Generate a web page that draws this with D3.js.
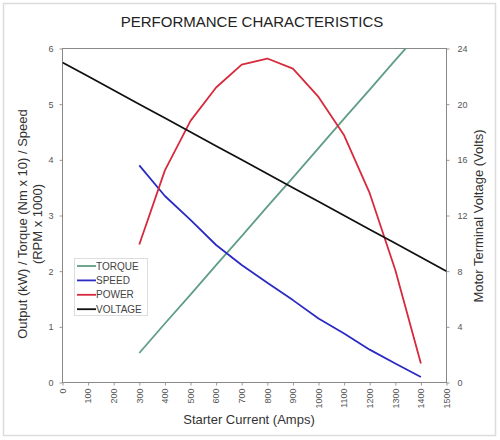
<!DOCTYPE html>
<html><head><meta charset="utf-8">
<script src="https://cdn.jsdelivr.net/npm/d3@7"></script>
<style>body{margin:0;background:#fff;font-family:"Liberation Sans",Arial,sans-serif}</style>
</head><body><div id="chart"></div>
<script>
const current = [300,400,500,600,700,800,900,1000,1100,1200,1300,1400];
const torque = [0.53,1.06,1.58,2.11,2.63,3.16,3.68,4.21,4.74,5.26,5.79,6.31];
const speed = [3.90,3.35,2.92,2.47,2.11,1.79,1.48,1.15,0.88,0.59,0.34,0.10];
const power = [2.48,3.81,4.70,5.30,5.71,5.82,5.64,5.13,4.44,3.40,2.02,0.34];
const voltCurrent = [0,100,200,300,400,500,600,700,800,900,1000,1100,1200,1300,1400,1500];
const voltage = [23,22,21,20,19,18,17,16,15,14,13,12,11,10,9,8];
const xTicks = [0,100,200,300,400,500,600,700,800,900,1000,1100,1200,1300,1400,1500];
const yLeftTicks = [0,1,2,3,4,5,6];
const yRightTicks = [0,4,8,12,16,20,24];
const legendNames = ["TORQUE","SPEED","POWER","VOLTAGE"];
const legendColors = ["#5f9e85","#2b2bc4","#d72a3c","#111111"];

const W=500,H=440;
const svg=d3.select("#chart").append("svg").attr("width",W).attr("height",H);
svg.append("rect").attr("x",3.5).attr("y",3.5).attr("width",492).attr("height",432)
  .attr("fill","#fff").attr("stroke","#dcdcdc").attr("stroke-width",1.5);

const L=62.5,R=446.5,T=48.5,B=382.5;
const x=d3.scaleLinear().domain([0,1500]).range([L,R]);
const yL=d3.scaleLinear().domain([0,6]).range([B,T]);
const yR=d3.scaleLinear().domain([0,24]).range([B,T]);

svg.append("text").attr("x",252).attr("y",27).attr("text-anchor","middle")
  .attr("font-size",15).attr("fill","#222").text("PERFORMANCE CHARACTERISTICS");

const defs=svg.append("defs");
defs.append("clipPath").attr("id","clip").append("rect")
  .attr("x",L).attr("y",T).attr("width",R-L).attr("height",B-T);

// axes
const gx=svg.append("g").attr("transform",`translate(0,${B})`)
  .call(d3.axisBottom(x).tickValues(xTicks).tickSize(3).tickFormat(d3.format("d")));
gx.selectAll("text").attr("transform","rotate(-90)").attr("text-anchor","end")
  .attr("x",-6).attr("y",0).attr("dy","0.32em");
const gl=svg.append("g").attr("transform",`translate(${L},0)`)
  .call(d3.axisLeft(yL).tickValues(yLeftTicks).tickSize(3).tickPadding(6).tickFormat(d3.format("d")));
const gr=svg.append("g").attr("transform",`translate(${R},0)`)
  .call(d3.axisRight(yR).tickValues(yRightTicks).tickSize(3).tickPadding(8).tickFormat(d3.format("d")));
[gx,gl,gr].forEach(g=>{
  g.select(".domain").remove();
  g.selectAll("line").attr("stroke","#999");
  g.selectAll("text").attr("fill","#555").attr("font-size",9).attr("font-family","Liberation Sans, Arial, sans-serif");
});
svg.append("rect").attr("x",L).attr("y",T).attr("width",R-L).attr("height",B-T)
  .attr("fill","none").attr("stroke","#888").attr("stroke-width",1);

// axis titles
svg.append("text").attr("x",249).attr("y",424).attr("text-anchor","middle")
  .attr("font-size",13).attr("fill","#333").text("Starter Current (Amps)");
const lt=svg.append("text").attr("transform","translate(27,224) rotate(-90)")
  .attr("text-anchor","middle").attr("font-size",13).attr("fill","#333");
lt.append("tspan").attr("x",0).attr("dy",0).text("Output (kW) / Torque (Nm x 10) / Speed");
lt.append("tspan").attr("x",0).attr("dy",14.5).text("(RPM x 1000)");
svg.append("text").attr("transform","translate(483,216) rotate(-90)")
  .attr("text-anchor","middle").attr("font-size",13).attr("fill","#333")
  .text("Motor Terminal Voltage (Volts)");

// lines
const plot=svg.append("g").attr("clip-path","url(#clip)");
const lineL=d3.line().x(d=>x(d[0])).y(d=>yL(d[1]));
const lineR=d3.line().x(d=>x(d[0])).y(d=>yR(d[1]));
const series=[
  {v:torque,c:legendColors[0],f:lineL,xs:current},
  {v:speed,c:legendColors[1],f:lineL,xs:current},
  {v:power,c:legendColors[2],f:lineL,xs:current},
  {v:voltage,c:legendColors[3],f:lineR,xs:voltCurrent}
];
series.forEach(s=>{
  plot.append("path").datum(s.xs.map((c,i)=>[c,s.v[i]]))
    .attr("fill","none").attr("stroke",s.c).attr("stroke-width",1.8)
    .attr("stroke-linejoin","round").attr("d",s.f);
});

// legend
const lg=svg.append("g");
lg.append("rect").attr("x",74.5).attr("y",258.5).attr("width",73).attr("height",57)
  .attr("fill","#fff").attr("stroke","#ddd");
legendNames.forEach((n,i)=>{
  const yy=266+i*14.4;
  lg.append("line").attr("x1",77).attr("x2",96).attr("y1",yy).attr("y2",yy)
    .attr("stroke",legendColors[i]).attr("stroke-width",1.8);
  lg.append("text").attr("x",96).attr("y",yy).attr("dy","0.35em")
    .attr("font-size",10).attr("fill","#444").text(n);
});
</script></body></html>
